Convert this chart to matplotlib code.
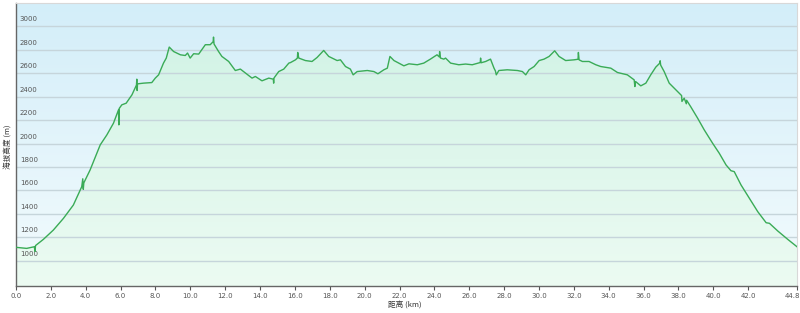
import numpy as np
import matplotlib
matplotlib.use("Agg")
import matplotlib.pyplot as plt
import matplotlib.transforms as mtransforms
from matplotlib.colors import LinearSegmentedColormap

# 距离 (km) / 海拔 (m)
dist = [0.0, 0.61, 1.05, 1.09, 1.12, 1.57, 2.14, 2.72, 3.29, 3.77, 3.83, 3.86, 3.89, 4.25, 4.83,
        5.21, 5.59, 5.88, 5.9, 5.92, 6.07, 6.32, 6.65, 6.91, 6.93, 6.95, 6.97, 7.31, 7.79,
        7.99, 8.18, 8.46, 8.62, 8.79, 9.04, 9.43, 9.71, 9.84, 9.99, 10.19, 10.48, 10.86,
        11.14, 11.31, 11.33, 11.36, 11.62, 11.81, 12.2, 12.58, 12.87, 13.54, 13.73, 14.11,
        14.5, 14.76, 14.78, 14.8, 15.07, 15.36, 15.65, 15.75, 16.03, 16.14, 16.16, 16.22,
        16.6, 16.98, 17.27, 17.65, 17.94, 18.42, 18.61, 18.9, 19.18, 19.34, 19.57, 20.15,
        20.53, 20.76, 21.1, 21.3, 21.45, 21.68, 22.25, 22.54, 23.02, 23.39, 23.77, 24.15,
        24.28, 24.3, 24.35, 24.54, 24.64, 24.93, 25.4, 25.79, 26.17, 26.63, 26.65, 26.68,
        26.94, 27.22, 27.42, 27.5, 27.55, 27.7, 28.18, 28.76, 29.05, 29.24, 29.43, 29.72,
        30.01, 30.29, 30.58, 30.9, 31.15, 31.53, 32.01, 32.24, 32.26, 32.3, 32.49, 32.87,
        33.26, 33.54, 34.12, 34.5, 35.07, 35.46, 35.5, 35.54, 35.84, 36.13, 36.41, 36.7,
        36.93, 36.95, 36.98, 37.18, 37.47, 37.95, 38.18, 38.2, 38.33, 38.45, 38.47, 38.72,
        39.1, 39.48, 39.96, 40.34, 40.73, 41.01, 41.2, 41.59, 42.07, 42.55, 43.03, 43.22,
        43.7, 44.27, 44.8]
elev = [1115, 1106, 1120, 1080, 1130, 1183, 1262, 1362, 1476, 1632, 1700, 1610, 1665, 1775, 1989,
        2074, 2174, 2288, 2160, 2300, 2331, 2345, 2416, 2500, 2550, 2453, 2510, 2516, 2521,
        2559, 2587, 2687, 2730, 2824, 2786, 2758, 2752, 2773, 2730, 2767, 2764, 2844,
        2844, 2870, 2909, 2850, 2786, 2744, 2701, 2624, 2636, 2559, 2573, 2536,
        2559, 2550, 2516, 2560, 2615, 2636, 2687, 2692, 2715, 2730, 2778, 2730,
        2709, 2701, 2735, 2795, 2744, 2709, 2715, 2658, 2636, 2587, 2615, 2624,
        2615, 2596, 2630, 2644, 2744, 2709, 2664, 2681, 2673, 2687, 2721, 2758,
        2740, 2786, 2730, 2721, 2730, 2687, 2673, 2679, 2673, 2692, 2730, 2690,
        2701, 2721, 2644, 2620, 2587, 2624, 2630, 2624, 2615, 2587, 2630, 2658,
        2709, 2721, 2744, 2792, 2744, 2709, 2715, 2720, 2778, 2715, 2701, 2701,
        2673, 2658, 2644, 2607, 2587, 2544, 2487, 2530, 2493, 2516, 2587, 2653,
        2687, 2707, 2670, 2615, 2516, 2444, 2410, 2360, 2388, 2340, 2370, 2311,
        2217, 2117, 2003, 1918, 1818, 1769, 1761, 1647, 1533, 1419, 1325, 1320,
        1254, 1183, 1120]

xticks = [0, 2, 4, 6, 8, 10, 12, 14, 16, 18, 20, 22, 24, 26, 28, 30, 32, 34, 36, 38, 40, 42, 44.8]
xtick_labels = ["0.0", "2.0", "4.0", "6.0", "8.0", "10.0", "12.0", "14.0", "16.0", "18.0", "20.0",
                "22.0", "24.0", "26.0", "28.0", "30.0", "32.0", "34.0", "36.0", "38.0", "40.0",
                "42.0", "44.8"]
yticks = [1000, 1200, 1400, 1600, 1800, 2000, 2200, 2400, 2600, 2800, 3000]

cjk = ['Noto Sans CJK SC', 'DejaVu Sans']

fig = plt.figure(figsize=(8, 3.13), dpi=100)
ax = fig.add_axes([16 / 800, 1 - 286 / 313, 781 / 800, 283 / 313])
x0, x1 = 0, 44.8
y0, y1 = 785, 3200
ax.set_xlim(x0, x1)
ax.set_ylim(y0, y1)

# background gradient (blue top -> pale bottom)
bg = LinearSegmentedColormap.from_list("bg", ["#f3fbfd", "#d3eef9"])
grad = np.linspace(0, 1, 256).reshape(-1, 1)
ax.imshow(grad, aspect="auto", cmap=bg, origin="lower", extent=[x0, x1, y0, y1], zorder=0)

# area under the curve with a green gradient
poly = ax.fill_between(dist, elev, y0, color="none", zorder=1)
fg = LinearSegmentedColormap.from_list("fg", ["#ecfbf2", "#d2f3e6"])
im = ax.imshow(grad, aspect="auto", cmap=fg, origin="lower", extent=[x0, x1, y0, 2950], zorder=1)
im.set_clip_path(poly.get_paths()[0], transform=ax.transData)

for v in yticks:
    ax.axhline(v, color="#c6d5db", lw=1, zorder=2)
    ax.text(0.005, v + 35, str(v), transform=ax.get_yaxis_transform(), fontsize=5,
            color="#555555", ha="left", va="bottom", zorder=3)

ax.plot(dist, elev, color="#3aab57", lw=1.0, zorder=4)

ax.set_yticks([])
ax.set_xticks(xticks)
ax.set_xticklabels(xtick_labels, fontsize=5, color="#555555")
ax.tick_params(axis="x", length=3, width=0.8, color="#555555", pad=2)
# keep the last label inside the figure
last = ax.get_xticklabels()[-1]
last.set_transform(last.get_transform() + mtransforms.ScaledTranslation(-5 / 100, 0, fig.dpi_scale_trans))

for s in ["top", "right"]:
    ax.spines[s].set_color("#d8d8d8")
    ax.spines[s].set_linewidth(0.8)
for s in ["left", "bottom"]:
    ax.spines[s].set_color("#666666")
    ax.spines[s].set_linewidth(1)

fig.text(405 / 800, 1 - 305 / 313, "距离 (km)", fontsize=5.5, color="#333333",
         ha="center", va="center", family=cjk)
fig.text(9 / 800, 1 - 147 / 313, "海拔高度 (m)", fontsize=5.5, color="#333333",
         ha="center", va="center", rotation=90, family=cjk)

fig.savefig("out.png", dpi=100)
